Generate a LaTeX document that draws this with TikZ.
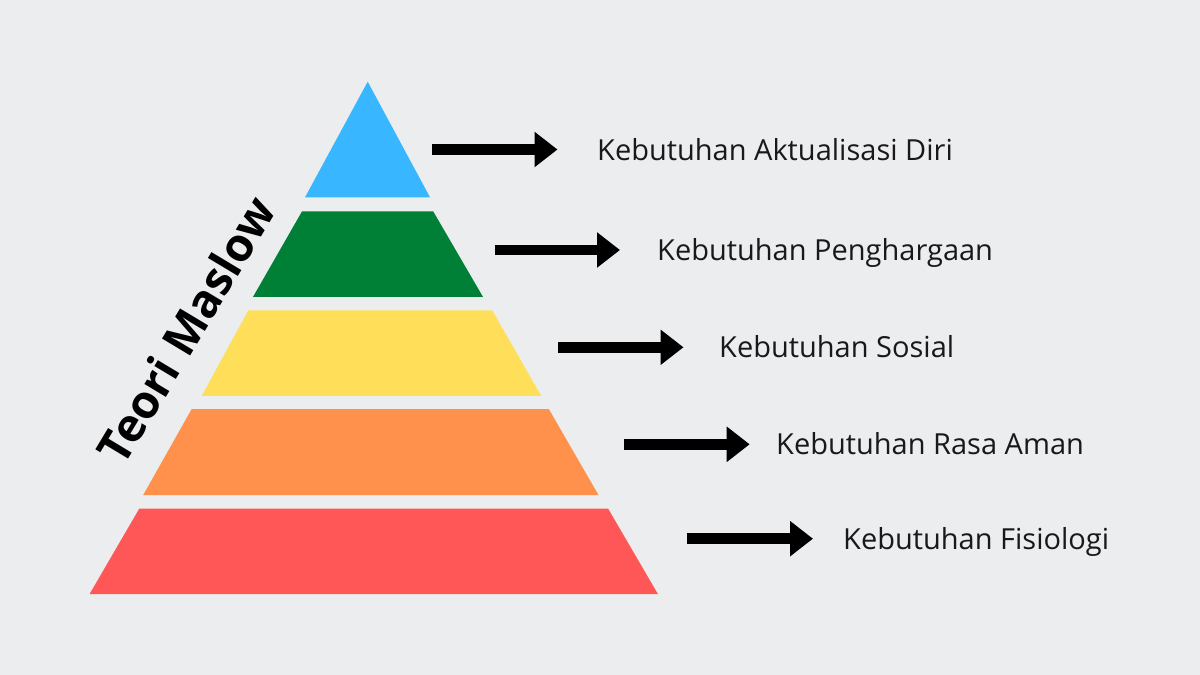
\documentclass[tikz,border=0pt]{standalone}
\usepackage{fontspec}
\setmainfont{Open Sans}
\usetikzlibrary{arrows.meta}
\definecolor{bg}{HTML}{ECEDEF}
\definecolor{lvblue}{HTML}{38B6FF}
\definecolor{lvgreen}{HTML}{008037}
\definecolor{lvyellow}{HTML}{FFDE59}
\definecolor{lvorange}{HTML}{FF914D}
\definecolor{lvred}{HTML}{FF5757}
\tikzset{
  lbl/.style={anchor=base west, inner sep=0pt, font=\fontsize{29}{33}\selectfont, text=black!90},
  bigarrow/.style={line width=10.5pt, -{Triangle[length=23pt,width=34pt]}, black},
}
\begin{document}
\begin{tikzpicture}[x=1pt,y=-1pt]
\useasboundingbox (0,0) rectangle (1200,675);
\fill[bg] (0,0) rectangle (1200,675);
% pyramid layers
\fill[lvblue] (367.7,81.7) -- (430,197.3) -- (305,197.3) -- cycle;
\fill[lvgreen] (302,211.4) -- (433.2,211.4) -- (483,296.9) -- (253,296.9) -- cycle;
\fill[lvyellow] (248.4,310.3) -- (492.2,310.3) -- (541.2,395.9) -- (201.7,395.9) -- cycle;
\fill[lvorange] (191.7,409) -- (548.8,409) -- (598.6,495.2) -- (143.1,495.2) -- cycle;
\fill[lvred] (139.3,508.6) -- (608.1,508.6) -- (657.9,594) -- (89.6,594) -- cycle;
% title
\node[rotate=59, inner sep=0pt, font=\fontsize{46}{50}\bfseries\selectfont] (title) at (186,330) {Teori Maslow};
% labels
\node[lbl] (l1) at (597,160) {Kebutuhan Aktualisasi Diri};
\node[lbl] (l2) at (657,260.5) {Kebutuhan Penghargaan};
\node[lbl] (l3) at (719,357.8) {Kebutuhan Sosial};
\node[lbl] (l4) at (776,454.8) {Kebutuhan Rasa Aman};
\node[lbl] (l5) at (843,549.2) {Kebutuhan Fisiologi};
% arrow ends
\coordinate (s1) at (432,149.5);  \coordinate (e1) at (557.5,149.5);
\coordinate (s2) at (495,250);    \coordinate (e2) at (620,250);
\coordinate (s3) at (558,347.3);  \coordinate (e3) at (683.5,347.3);
\coordinate (s4) at (624,444.3);  \coordinate (e4) at (749.7,444.3);
\coordinate (s5) at (687.3,538.7);\coordinate (e5) at (813,538.7);
\foreach \i in {1,...,5} { \draw[bigarrow] (s\i) -- (e\i); }
\end{tikzpicture}
\end{document}
